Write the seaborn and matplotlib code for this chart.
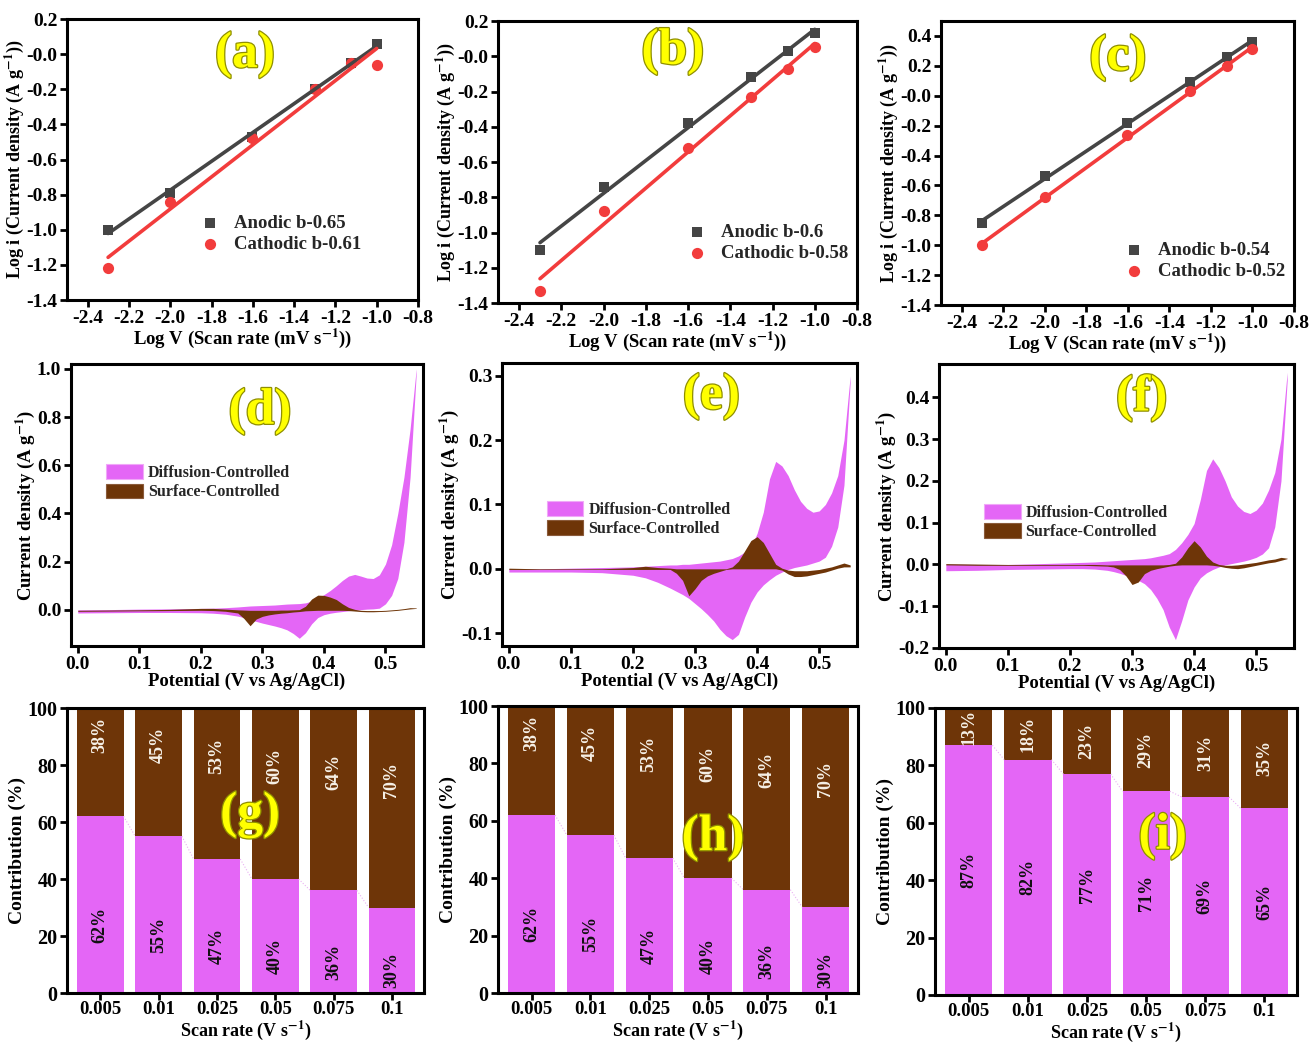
import numpy as np
import matplotlib
matplotlib.use("Agg")
import matplotlib.pyplot as plt
import matplotlib.patheffects as pe
from matplotlib.patches import Patch
import seaborn as sns

# ---------------- data: log i vs log v (a-c)
log_v = [-2.301, -2.0, -1.602, -1.301, -1.125, -1.0]
anodic_a = [-1.00, -0.79, -0.47, -0.20, -0.05, 0.055]
cathodic_a = [-1.22, -0.84, -0.48, -0.20, -0.05, -0.06]
anodic_b = [-1.10, -0.74, -0.38, -0.12, 0.03, 0.13]
cathodic_b = [-1.33, -0.88, -0.52, -0.23, -0.07, 0.05]
anodic_c = [-0.85, -0.54, -0.18, 0.09, 0.26, 0.36]
cathodic_c = [-1.00, -0.68, -0.26, 0.03, 0.20, 0.31]

# ---------------- data: CV split (d-f)
pot = [0.00, 0.05, 0.10, 0.15, 0.20,
       0.22, 0.24,
       0.26, 0.27, 0.28, 0.29, 0.30, 0.31, 0.32, 0.33, 0.34, 0.35,
       0.36, 0.37, 0.38, 0.39, 0.40, 0.41, 0.42, 0.43, 0.44, 0.45,
       0.46, 0.47, 0.48, 0.49, 0.50, 0.51, 0.52, 0.53, 0.54, 0.55]

diff_up_d = [0.000, 0.001, 0.003, 0.004, 0.006,
             0.007, 0.009,
             0.012, 0.014, 0.016, 0.017, 0.018, 0.019, 0.020, 0.022, 0.024, 0.025,
             0.026, 0.029, 0.036, 0.048, 0.063, 0.080, 0.100, 0.122, 0.140, 0.147,
             0.140, 0.132, 0.130, 0.145, 0.190, 0.270, 0.400, 0.550, 0.750, 1.000]
diff_lo_d = [-0.013, -0.012, -0.011, -0.011, -0.012,
             -0.014, -0.018,
             -0.026, -0.032, -0.042, -0.048, -0.055, -0.061, -0.067, -0.074, -0.083, -0.098,
             -0.118, -0.095, -0.058, -0.032, -0.020, -0.014, -0.010, -0.007, -0.004, -0.001,
             0.001, 0.003, 0.004, 0.007, 0.025, 0.060, 0.130, 0.280, 0.550, 0.980]
surf_up_d = [-0.002, -0.001, 0.000, 0.002, 0.006,
             0.006, 0.003,
             0.000, -0.001, -0.002, -0.002, -0.002, -0.002, -0.002, -0.001, -0.001, 0.000,
             0.001, 0.015, 0.045, 0.061, 0.060, 0.053, 0.043, 0.025, 0.010, 0.002,
             -0.002, -0.003, -0.003, -0.003, -0.002, 0.000, 0.002, 0.005, 0.009, 0.008]
surf_lo_d = [-0.006, -0.005, -0.004, -0.003, -0.002,
             -0.003, -0.006,
             -0.013, -0.036, -0.066, -0.038, -0.027, -0.021, -0.017, -0.014, -0.012, -0.009,
             -0.007, -0.004, -0.003, -0.002, -0.002, -0.002, -0.002, -0.002, -0.003, -0.005,
             -0.007, -0.008, -0.008, -0.007, -0.006, -0.004, -0.002, 0.001, 0.004, 0.006]

diff_up_e = [0.000, 0.000, 0.001, 0.002, 0.003,
             0.004, 0.005,
             0.006, 0.006, 0.007, 0.007, 0.008, 0.009, 0.010, 0.011, 0.012, 0.014,
             0.016, 0.020, 0.026, 0.034, 0.055, 0.088, 0.140, 0.167, 0.160, 0.145,
             0.123, 0.105, 0.094, 0.088, 0.090, 0.100, 0.118, 0.145, 0.200, 0.300]
diff_lo_e = [-0.005, -0.005, -0.005, -0.006, -0.010,
             -0.014, -0.021,
             -0.030, -0.035, -0.040, -0.046, -0.054, -0.062, -0.071, -0.081, -0.094, -0.104,
             -0.110, -0.102, -0.075, -0.052, -0.036, -0.025, -0.017, -0.010, -0.005, -0.001,
             0.002, 0.004, 0.006, 0.009, 0.012, 0.018, 0.035, 0.065, 0.130, 0.290]
surf_up_e = [0.001, 0.000, 0.000, 0.000, 0.002,
             0.004, 0.002,
             0.001, 0.000, 0.000, 0.000, 0.000, 0.000, 0.000, 0.000, 0.000, 0.000,
             0.003, 0.012, 0.028, 0.044, 0.050, 0.041, 0.024, 0.007, 0.001, -0.002,
             -0.003, -0.003, -0.003, -0.002, -0.001, 0.001, 0.003, 0.006, 0.009, 0.006]
surf_lo_e = [-0.001, -0.001, -0.001, -0.001, -0.001,
             -0.001, -0.001,
             -0.001, -0.007, -0.018, -0.042, -0.031, -0.018, -0.011, -0.007, -0.004, -0.001,
             0.000, 0.000, 0.000, 0.000, 0.000, 0.000, 0.000, 0.000, -0.002, -0.008,
             -0.012, -0.012, -0.011, -0.009, -0.007, -0.005, -0.002, 0.001, 0.003, 0.003]

diff_up_f = [0.001, 0.000, 0.000, 0.002, 0.004,
             0.005, 0.006,
             0.008, 0.009, 0.010, 0.011, 0.012, 0.013, 0.014, 0.016, 0.019, 0.022,
             0.026, 0.036, 0.052, 0.072, 0.098, 0.155, 0.225, 0.253, 0.232, 0.200,
             0.162, 0.140, 0.127, 0.122, 0.130, 0.147, 0.178, 0.220, 0.300, 0.460]
diff_lo_f = [-0.015, -0.014, -0.012, -0.011, -0.010,
             -0.010, -0.011,
             -0.014, -0.017, -0.021, -0.026, -0.031, -0.038, -0.046, -0.060, -0.081, -0.108,
             -0.150, -0.180, -0.135, -0.085, -0.054, -0.032, -0.020, -0.012, -0.006, -0.001,
             0.002, 0.005, 0.008, 0.012, 0.017, 0.025, 0.040, 0.090, 0.200, 0.440]
surf_up_f = [0.002, 0.001, 0.000, 0.000, 0.000,
             0.000, 0.000,
             -0.001, -0.001, -0.001, -0.001, -0.001, -0.001, -0.001, -0.001, -0.001, -0.001,
             0.000, 0.003, 0.018, 0.040, 0.057, 0.042, 0.020, 0.006, 0.000, -0.002,
             -0.002, -0.001, 0.001, 0.003, 0.005, 0.008, 0.011, 0.013, 0.017, 0.015]
surf_lo_f = [-0.001, -0.002, -0.002, -0.002, -0.002,
             -0.002, -0.003,
             -0.004, -0.006, -0.012, -0.027, -0.048, -0.042, -0.022, -0.014, -0.010, -0.007,
             -0.004, -0.002, -0.001, -0.001, -0.001, -0.001, -0.001, -0.002, -0.004, -0.007,
             -0.009, -0.010, -0.008, -0.005, -0.002, 0.001, 0.004, 0.006, 0.010, 0.014]

# ---------------- data: contribution bars (g-i)
rates = ["0.005", "0.01", "0.025", "0.05", "0.075", "0.1"]
diff_g = [62, 55, 47, 40, 36, 30]
surf_g = [38, 45, 53, 60, 64, 70]
diff_h = [62, 55, 47, 40, 36, 30]
surf_h = [38, 45, 53, 60, 64, 70]
diff_i = [87, 82, 77, 71, 69, 65]
surf_i = [13, 18, 23, 29, 31, 35]

gray = "#454545"
red = "#f23c3c"
pink = "#e466f6"
brown = "#6e3508"

sns.set_theme(style="ticks", rc={"axes.edgecolor": "black", "xtick.color": "black",
                                 "ytick.color": "black", "axes.labelcolor": "black"})
plt.rcParams["font.family"] = ["Liberation Serif", "DejaVu Serif"]
plt.rcParams["font.weight"] = "bold"
plt.rcParams["axes.labelweight"] = "bold"
plt.rcParams["mathtext.fontset"] = "stix"
plt.rcParams["mathtext.default"] = "bf"
plt.rcParams["axes.unicode_minus"] = False
plt.rcParams["axes.linewidth"] = 2.2
for k in ["xtick", "ytick"]:
    plt.rcParams[k + ".major.width"] = 2.0
    plt.rcParams[k + ".major.size"] = 5
    plt.rcParams[k + ".direction"] = "out"
    plt.rcParams[k + ".major.pad"] = 2

fig = plt.figure(figsize=(13.09, 10.42), dpi=100)
fig.patch.set_facecolor("white")


def tag(ax, text, x, y):
    ax.text(x, y, text, transform=ax.transAxes, ha="center", va="center",
            fontsize=37, color="#ffff00", fontweight="bold", zorder=10,
            path_effects=[pe.withStroke(linewidth=1.8, foreground="#8f8f00")])


# ---------------- (a)-(c) log plots
logs = [
    ([0.05118, 0.71209, 0.26814, 0.26967], anodic_a, cathodic_a, "0.65", "0.61",
     (-1.4, 0.2), "(a)", (0.507, 0.872), (0.38, 0.235)),
    ([0.38044, 0.70921, 0.27426, 0.27063], anodic_b, cathodic_b, "0.6", "0.58",
     (-1.4, 0.2), "(b)", (0.487, 0.891), (0.527, 0.213)),
    ([0.71887, 0.70729, 0.26967, 0.27255], anodic_c, cathodic_c, "0.54", "0.52",
     (-1.4, 0.5), "(c)", (0.501, 0.87), (0.52, 0.156)),
]
for rect, an, ca, ban, bca, ylim, lab, lpos, legpos in logs:
    ax = fig.add_axes(rect)
    sns.regplot(x=log_v, y=an, ax=ax, ci=None, color=gray, marker="s",
                scatter_kws=dict(s=55, linewidths=0, alpha=1), line_kws=dict(lw=2.6),
                label="Anodic b-" + ban)
    sns.regplot(x=log_v, y=ca, ax=ax, ci=None, color=red, marker="o",
                scatter_kws=dict(s=65, linewidths=0, alpha=1), line_kws=dict(lw=2.6),
                label="Cathodic b-" + bca)
    ax.set_xlim(-2.5, -0.8)
    ax.set_ylim(*ylim)
    ax.set_xticks(np.round(np.arange(-2.4, -0.79, 0.2), 1))
    ax.set_yticks(np.round(np.arange(-1.4, ylim[1] + 0.01, 0.2), 1))
    ax.xaxis.set_major_formatter(matplotlib.ticker.FormatStrFormatter("%.1f"))
    ax.yaxis.set_major_formatter(matplotlib.ticker.FormatStrFormatter("%.1f"))
    ax.tick_params(labelsize=14)
    ax.set_xlabel(r"Log V (Scan rate (mV s$^{-1}$))", fontsize=13.5, labelpad=0)
    ax.set_ylabel(r"Log i (Current density (A g$^{-1}$))", fontsize=13, labelpad=0)
    ax.legend(loc="center left", bbox_to_anchor=legpos, frameon=False, fontsize=13.5,
              handlelength=1.0, handletextpad=0.8, borderpad=0, labelspacing=0.2,
              borderaxespad=0)
    tag(ax, lab, *lpos)

# ---------------- (d)-(f) CV contributions
cvs = [
    ([0.05424, 0.38004, 0.26891, 0.27063], diff_up_d, diff_lo_d, surf_up_d, surf_lo_d,
     (-0.15, 1.02), np.arange(0, 1.01, 0.2), "(d)", (0.537, 0.831), (0.10, 0.58)),
    ([0.38350, 0.38004, 0.27120, 0.27159], diff_up_e, diff_lo_e, surf_up_e, surf_lo_e,
     (-0.12, 0.32), np.arange(-0.1, 0.31, 0.1), "(e)", (0.59, 0.881), (0.126, 0.449)),
    ([0.71734, 0.37812, 0.27120, 0.27255], diff_up_f, diff_lo_f, surf_up_f, surf_lo_f,
     (-0.2, 0.48), np.arange(-0.2, 0.41, 0.1), "(f)", (0.571, 0.879), (0.127, 0.444)),
]
for rect, dup, dlo, sup, slo, ylim, yt, lab, lpos, legpos in cvs:
    ax = fig.add_axes(rect)
    ax.fill_between(pot, dlo, dup, color=pink, lw=0)
    ax.fill_between(pot, slo, sup, color=brown, lw=0)
    ax.set_xlim(-0.011, 0.561)
    ax.set_ylim(*ylim)
    ax.set_xticks(np.round(np.arange(0, 0.51, 0.1), 1))
    ax.set_yticks(np.round(yt, 1))
    ax.xaxis.set_major_formatter(matplotlib.ticker.FormatStrFormatter("%.1f"))
    ax.yaxis.set_major_formatter(matplotlib.ticker.FormatStrFormatter("%.1f"))
    ax.tick_params(labelsize=14)
    ax.set_xlabel("Potential (V vs Ag/AgCl)", fontsize=13.5, labelpad=0)
    ax.set_ylabel(r"Current density (A g$^{-1}$)", fontsize=13.5, labelpad=0)
    handles = [Patch(facecolor=pink, edgecolor="#f0a8f8", lw=0.8, label="Diffusion-Controlled"),
               Patch(facecolor=brown, edgecolor="#8a5a3a", lw=0.8, label="Surface-Controlled")]
    ax.legend(handles=handles, loc="center left", bbox_to_anchor=legpos, frameon=False,
              fontsize=11.5, handlelength=2.3, handleheight=1.05, handletextpad=0.3,
              borderpad=0, labelspacing=0.15, borderaxespad=0)
    tag(ax, lab, *lpos)

# ---------------- (g)-(i) stacked bars
bars = [
    ([0.05118, 0.04702, 0.27273, 0.27351], diff_g, surf_g, "(g)", (0.513, 0.625), -7, 9.7),
    ([0.38044, 0.04702, 0.27502, 0.27543], diff_h, surf_h, "(h)", (0.597, 0.54), -7, 9.7),
    ([0.71429, 0.04511, 0.27655, 0.27543], diff_i, surf_i, "(i)", (0.629, 0.552), 0, 0),
]
for rect, dv, sv, lab, lpos, off_d, off_s in bars:
    ax = fig.add_axes(rect)
    total = [d + s for d, s in zip(dv, sv)]
    sns.barplot(x=rates, y=total, color=brown, saturation=1, width=0.8, linewidth=0, ax=ax)
    sns.barplot(x=rates, y=dv, color=pink, saturation=1, width=0.8, linewidth=0, ax=ax)
    # faint dotted connectors between bar tops
    for k in range(len(dv) - 1):
        ax.plot([k + 0.4, k + 0.6], [dv[k], dv[k + 1]], ls=":", lw=0.8,
                color="#eab0f3", zorder=3)
    for k in range(len(dv)):
        ax.text(k, dv[k] / 2 + off_d, f"{dv[k]}%", rotation=90, ha="center", va="center",
                fontsize=13, color="#111111", fontweight="bold")
        ax.text(k, dv[k] + sv[k] / 2 + off_s, f"{sv[k]}%", rotation=90, ha="center",
                va="center", fontsize=13, color="#f6f0e6", fontweight="bold")
    ax.set_xlim(-0.57, 5.55)
    ax.set_ylim(0, 100)
    ax.set_yticks([0, 20, 40, 60, 80, 100])
    ax.tick_params(axis="y", labelsize=14.5)
    ax.tick_params(axis="x", labelsize=13.5, pad=1)
    ax.set_xlabel(r"Scan rate (V s$^{-1}$)", fontsize=13, labelpad=0)
    ax.set_ylabel("Contribution (%)", fontsize=14, labelpad=1)
    tag(ax, lab, *lpos)

fig.savefig("out.png", dpi=100)
